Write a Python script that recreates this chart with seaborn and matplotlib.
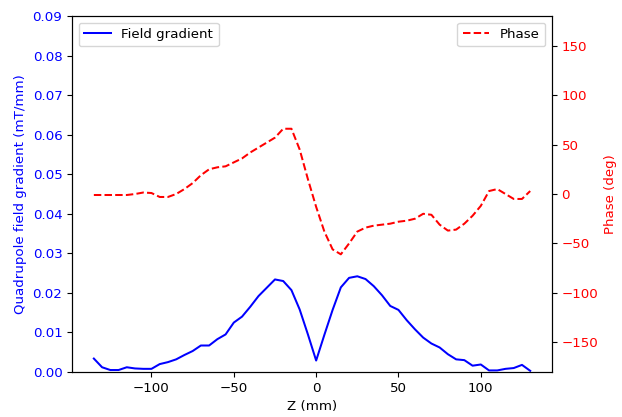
import numpy as np
import pandas as pd
import seaborn as sns
import matplotlib
matplotlib.use("Agg")
import matplotlib.pyplot as plt

plt.rcParams["font.size"] = 9.6
plt.rcParams["xtick.major.size"] = 3.4
plt.rcParams["ytick.major.size"] = 3.4

# Axial position along the quadrupole (mm)
z_mm = list(range(-135, 131, 5))

# Quadrupole field gradient (mT/mm)
gradient = [
    0.0034, 0.0012, 0.0005, 0.0005, 0.0012, 0.0009, 0.0008, 0.0008,
    0.0020, 0.0025, 0.0032, 0.0043, 0.0053, 0.0067, 0.0067, 0.0083,
    0.0095, 0.0125, 0.0140, 0.0165, 0.0192, 0.0213, 0.0234, 0.0230,
    0.0207, 0.0158, 0.0095, 0.0029,
    0.0094, 0.0157, 0.0214, 0.0238, 0.0242, 0.0235, 0.0217, 0.0194,
    0.0167, 0.0157, 0.0131, 0.0108, 0.0087, 0.0072, 0.0062, 0.0045,
    0.0032, 0.0030, 0.0016, 0.0019, 0.0004, 0.0004, 0.0008, 0.0010,
    0.0018, 0.0003,
]

# Phase of the gradient (deg)
phase = [
    -1, -1, -1, -1, -1, 0, 1.5, 1, -3, -3, 0, 5, 11, 19, 25, 27,
    28, 32, 36, 42, 47, 52, 57, 66, 66, 45, 15, -13,
    -38, -56, -61, -50, -38, -34, -32, -31, -30, -28, -27, -25, -20, -21,
    -31, -37, -36, -30, -22, -12, 3, 5, 0, -5, -5, 3,
]

df = pd.DataFrame({"z": z_mm, "gradient": gradient, "phase": phase})

fig, ax = plt.subplots(figsize=(6.22, 4.17), dpi=100)
fig.subplots_adjust(left=0.1158, right=0.8875, top=0.9616, bottom=0.1079)

sns.lineplot(data=df, x="z", y="gradient", ax=ax, color="b",
             label="Field gradient", linewidth=1.45)
ax.set_ylim(0, 0.09)
ax.set_yticks(np.arange(0, 0.0901, 0.01))
ax.set_xlabel("Z (mm)")
ax.set_ylabel("Quadrupole field gradient (mT/mm)", color="b")
ax.tick_params(axis="y", labelcolor="b")
ax.legend(loc="upper left")

ax2 = ax.twinx()
sns.lineplot(data=df, x="z", y="phase", ax=ax2, color="r",
             linestyle="--", label="Phase", linewidth=1.45)
ax2.set_ylim(-180, 180)
ax2.set_yticks([-150, -100, -50, 0, 50, 100, 150])
ax2.set_ylabel("Phase (deg)", color="r")
ax2.tick_params(axis="y", labelcolor="r")
ax2.legend(loc="upper right")

ax.set_xticks([-100, -50, 0, 50, 100])

fig.savefig("out.png", dpi=100)
